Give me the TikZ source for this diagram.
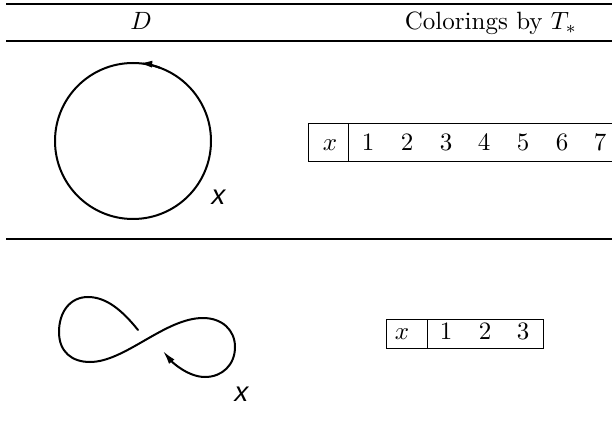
\documentclass[tikz,border=0pt]{standalone}
\usepackage{fontspec}
\newfontfamily\figfont{Liberation Sans}[FakeSlant=0.2]
\usetikzlibrary{arrows.meta,positioning}

\begin{document}
\begin{tikzpicture}[
  x=0.4pt, y=-0.4pt,
  >=Latex,
  knot/.style={line width=0.8pt, line cap=round},
  tip/.style={-{Latex[length=5.5pt,width=2.8pt]}},
  rule/.style={line width=0.5pt},
  frame/.style={line width=0.4pt},
  entry/.style={anchor=base, inner sep=0pt},
  lbl/.style={anchor=base, inner sep=0pt, font=\figfont\fontsize{11}{13}\selectfont}
]
\useasboundingbox (0,0) rectangle (612,432);

% header
\draw[line width=0.8pt] (6,4) -- (612,4);
\node[entry] (hdD) at (141,30) {$D$};
\node[entry] (hdcol) at (491,30) {Colorings by $T_*$};
\draw[rule] (6,41) -- (612,41);
\draw[rule] (6,239) -- (612,239);

% unknot
\coordinate (ca) at (133,141);
\draw[knot] (ca) circle[radius=78];
\draw[knot, tip] (ca) ++(-70:78) arc[start angle=-70, end angle=-86, radius=78];
\node[lbl] (xa) at (217,205) {x};

\draw[frame] (612,124) -| (308,162) -- (612,162);
\draw[frame] (348,124) -- (348,162);
\node[entry] (ta0) at (330,151) {$x$};
\foreach \n/\px in {1/368,2/407,3/446,4/484,5/523,6/562,7/600}
  \node[entry] (ta\n) at (\px,151) {$\n$};

% figure eight
\draw[knot, tip] (138,330) .. controls (122,310) and (106,297) .. (88,297)
  .. controls (70,297) and (59,312) .. (59,332)
  .. controls (59,352) and (72,362) .. (90,362)
  .. controls (125,362) and (165,318) .. (203,318)
  .. controls (222,318) and (235,330) .. (235,347)
  .. controls (235,365) and (222,377) .. (205,377)
  .. controls (188,377) and (172,362) .. (163,351);
\node[lbl] (xb) at (240,401) {x};

\draw[frame] (386,319) rectangle (543,348);
\draw[frame] (427,319) -- (427,348);
\node[entry] (tb0) at (402,339) {$x$};
\foreach \n/\px in {1/446,2/485,3/523}
  \node[entry] (tb\n) at (\px,339) {$\n$};
\end{tikzpicture}
\end{document}
